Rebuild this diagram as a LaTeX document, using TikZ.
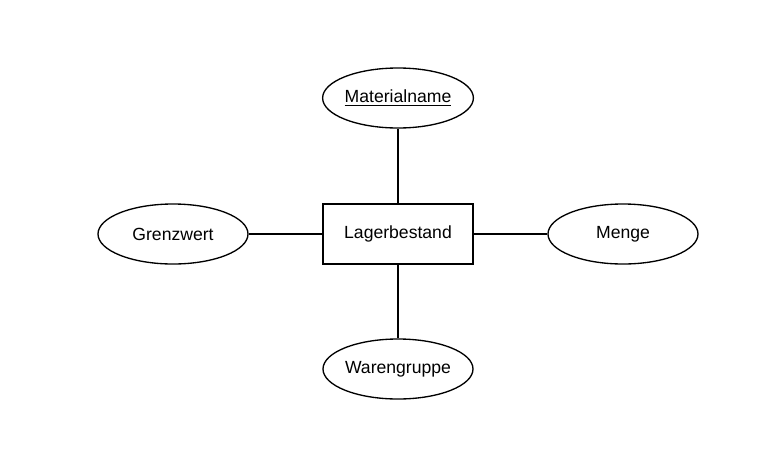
\documentclass[tikz,border=0pt]{standalone}
\usepackage{fontspec}
\setmainfont{Liberation Sans}
\usetikzlibrary{shapes.geometric}
\begin{document}
\begin{tikzpicture}[x=0.75pt,y=-0.75pt,
  every node/.style={font=\fontsize{13.2}{16}\selectfont, line width=1pt, draw, inner sep=0pt},
  entity/.style={rectangle, minimum width=112.5pt, minimum height=45pt},
  attr/.style={ellipse, minimum width=112.5pt, minimum height=45pt},
  conn/.style={line width=1pt}]
\useasboundingbox (0,0) rectangle (777,475);
\node[entity] (lb) at (398,234) {Lagerbestand};
\node[attr] (mn) at (398,98) {\underline{Materialname}};
\node[attr] (gw) at (173,234) {Grenzwert};
\node[attr] (me) at (623,234) {Menge};
\node[attr] (wg) at (398,369) {Warengruppe};
\draw[conn] (lb) -- (mn);
\draw[conn] (lb) -- (gw);
\draw[conn] (lb) -- (me);
\draw[conn] (lb) -- (wg);
\end{tikzpicture}
\end{document}
